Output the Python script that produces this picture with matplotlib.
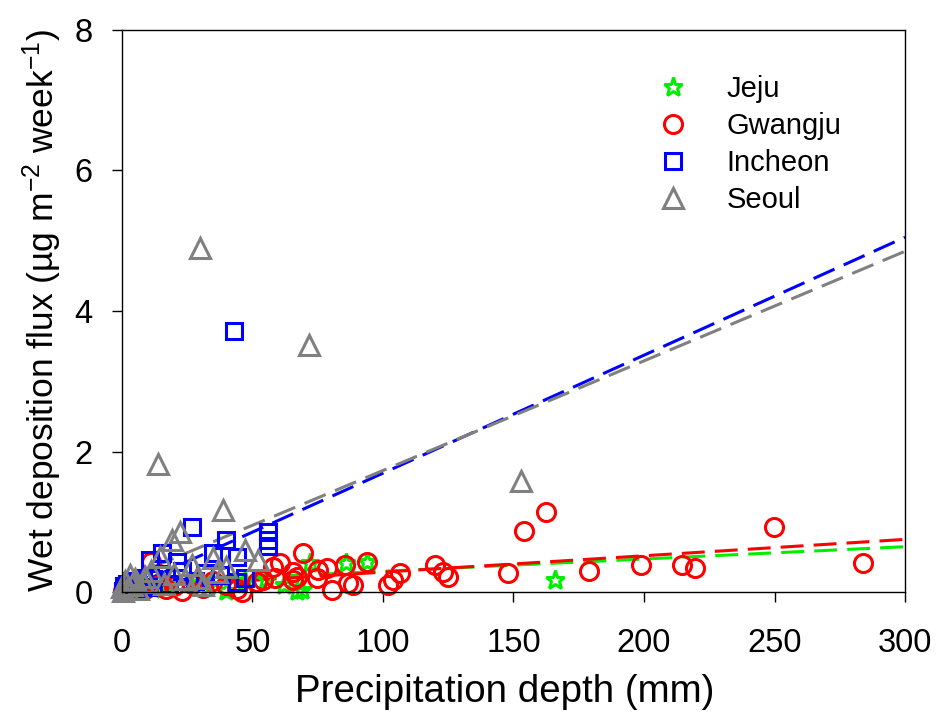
import numpy as np
import matplotlib.pyplot as plt

plt.rcParams['font.family'] = ['Liberation Sans', 'DejaVu Sans']
plt.rcParams['mathtext.fontset'] = 'custom'
plt.rcParams['mathtext.rm'] = 'Liberation Sans'
plt.rcParams['mathtext.it'] = 'Liberation Sans:italic'

# Jeju (green stars)
jeju_x = [0.5, 1.5, 2.5, 4, 6, 8, 12, 18, 25, 33, 40, 47, 55, 62, 67, 69, 72, 86, 94, 166]
jeju_y = [0.02, 0.05, 0.03, 0.08, 0.04, 0.06, 0.05, 0.1, 0.12, 0.08, 0.02, 0.15, 0.18, 0.1, 0.02,
          0.03, 0.42, 0.41, 0.43, 0.17]

# Gwangju (red circles)
gwangju_x = [0.5, 1, 2, 3, 5, 7, 9, 11, 14, 17, 20, 23, 27, 31, 35, 40, 44, 46, 51.7, 54, 58, 58.6,
             60.5, 65.5, 65.5, 67, 69.5, 74.7, 75, 78.5, 80.5, 85.5, 86.6, 88.5, 94, 102, 104, 106.5,
             120, 123, 125, 148, 154, 162.5, 179, 199, 214.5, 219.5, 249.8, 284]
gwangju_y = [0.02, 0.05, 0.01, 0.08, 0.03, 0.06, 0.04, 0.43, 0.1, 0.05, 0.08, 0.02, 0.12, 0.06, 0.15,
             0.1, 0.05, 0.0, 0.14, 0.17, 0.36, 0.2, 0.41, 0.28, 0.17, 0.21, 0.55, 0.2, 0.31, 0.34,
             0.03, 0.38, 0.13, 0.1, 0.43, 0.1, 0.17, 0.27, 0.38, 0.29, 0.22, 0.27, 0.87, 1.14, 0.30,
             0.38, 0.38, 0.34, 0.93, 0.41]

# Incheon (blue squares)
incheon_x = [0.3, 0.8, 1.5, 2, 3, 4, 5, 6, 8, 10, 10.7, 12, 14, 15.3, 18, 21, 23, 26.8, 28, 32, 35,
             37.5, 40, 42.9, 44, 44, 47, 56, 56, 56]
incheon_y = [0.02, 0.08, 0.04, 0.12, 0.06, 0.15, 0.03, 0.1, 0.2, 0.07, 0.46, 0.18, 0.25, 0.55, 0.12,
             0.43, 0.3, 0.93, 0.15, 0.27, 0.55, 0.24, 0.74, 3.72, 0.5, 0.14, 0.2, 0.86, 0.74, 0.65]

# Seoul (gray triangles)
seoul_x = [0, 0.5, 1, 2, 3, 4, 5, 6, 8, 9, 11, 13.8, 14.6, 16, 19.2, 20, 22.2, 24, 26.8, 28.6, 29.9,
           31, 35, 36.3, 38.7, 40, 47, 52, 71.6, 152.9]
seoul_y = [0.07, 0.02, 0.15, 0.05, 0.24, 0.1, 0.18, 0.04, 0.14, 0.22, 0.3, 1.82, 0.5, 0.12, 0.74,
           0.25, 0.85, 0.18, 0.38, 0.2, 4.90, 0.1, 0.48, 0.29, 1.17, 0.35, 0.6, 0.46, 3.52, 1.58]

# linear fits (intercept, slope)
fit_jeju = (0.12, 0.00175)
fit_gwangju = (0.05, 0.00233)
fit_incheon = (0.013, 0.01679)
fit_seoul = (0.17, 0.0156)

fig = plt.figure(figsize=(9.36, 7.21), dpi=100)
ax = fig.add_axes([0.1303, 0.1789, 0.8366, 0.7795])

xfit = np.linspace(0, 300, 100)
dash = (0, (7.5, 3.3))
ax.plot(xfit, fit_jeju[0] + fit_jeju[1] * xfit, color='#00ee00', ls=dash, lw=2.2)
ax.plot(xfit, fit_gwangju[0] + fit_gwangju[1] * xfit, color='red', ls=dash, lw=2.2)
ax.plot(xfit, fit_incheon[0] + fit_incheon[1] * xfit, color='blue', ls=dash, lw=2.2)
ax.plot(xfit, fit_seoul[0] + fit_seoul[1] * xfit, color='gray', ls=dash, lw=2.2)

ax.plot(jeju_x, jeju_y, ls='none', marker='*', ms=14, mfc='none', mec='#00ee00', mew=2.2,
        label='Jeju', clip_on=False)
ax.plot(gwangju_x, gwangju_y, ls='none', marker='o', ms=13, mfc='none', mec='red', mew=2.2,
        label='Gwangju', clip_on=False)
ax.plot(incheon_x, incheon_y, ls='none', marker='s', ms=12, mfc='none', mec='blue', mew=2.2,
        label='Incheon', clip_on=False)
ax.plot(seoul_x, seoul_y, ls='none', marker='^', ms=14, mfc='none', mec='gray', mew=2.2,
        label='Seoul', clip_on=False)

ax.set_xlim(0, 300)
ax.set_ylim(0, 8)
ax.set_xticks([0, 50, 100, 150, 200, 250, 300])
ax.set_yticks([0, 2, 4, 6, 8])
ax.tick_params(direction='out', length=7, width=1, labelsize=23.5)
ax.tick_params(axis='x', pad=19)
ax.tick_params(axis='y', pad=14)
for s in ax.spines.values():
    s.set_linewidth(1)

ax.set_xlabel('Precipitation depth (mm)', fontsize=27.7)
ax.xaxis.set_label_coords(0.489, -0.145)
ax.set_ylabel('Wet deposition flux (µg m$^{-2}$ week$^{-1}$)', fontsize=25.5)
ax.yaxis.set_label_coords(-0.074, 0.5)

ax.legend(loc='upper left', bbox_to_anchor=(0.685, 0.92), frameon=False, fontsize=21,
          handlelength=1.0, handletextpad=1.33, labelspacing=0.31, borderpad=0,
          borderaxespad=0)

fig.savefig('out.png', dpi=100)
